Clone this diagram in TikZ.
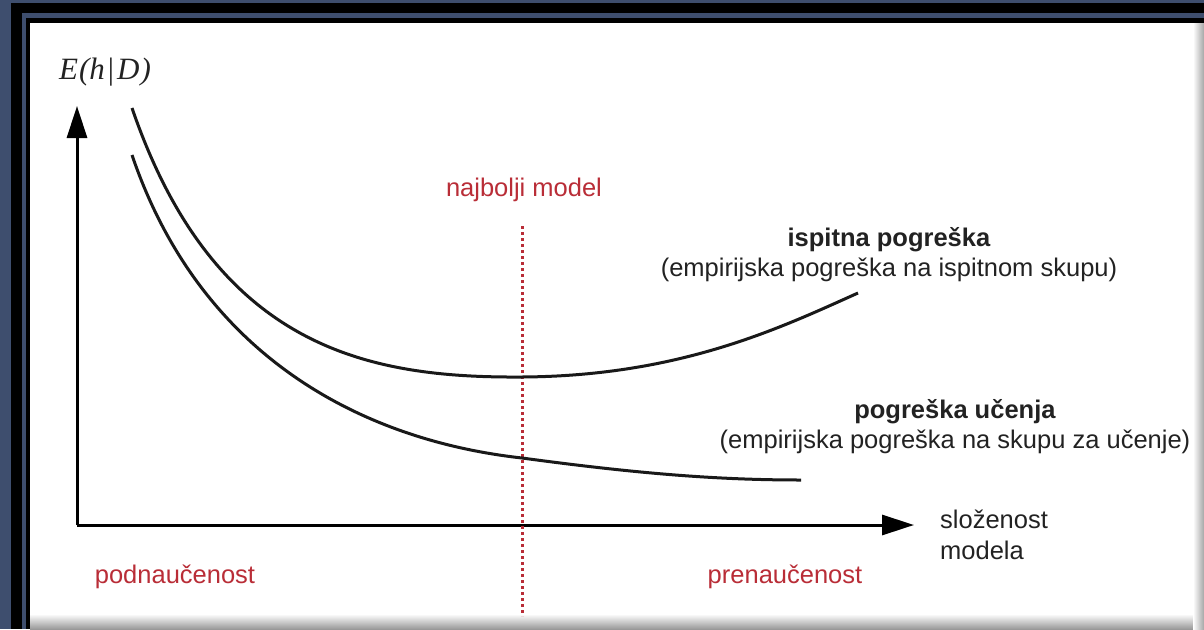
\documentclass[tikz,border=0pt]{standalone}
\usepackage{fontspec}
\setmainfont{Liberation Sans}
\newfontfamily\serifit{Liberation Serif}
\usetikzlibrary{arrows.meta}
\definecolor{navy}{RGB}{62,78,110}
\definecolor{txt}{RGB}{34,34,34}
\definecolor{redtxt}{RGB}{185,45,55}
\begin{document}
\begin{tikzpicture}[x=1pt,y=-1pt,
  axis/.style={line width=3pt,draw=black,-{Triangle[length=32pt,width=20pt]}},
  curve/.style={line width=3pt,draw=black!90},
  lab/.style={text=txt,font=\fontsize{25.5}{30}\selectfont,align=center,inner sep=0pt},
  redlab/.style={text=redtxt,font=\fontsize{25.5}{30}\selectfont,inner sep=0pt},
  bestline/.style={redtxt,line width=3pt,dash pattern=on 2.5pt off 3.5pt}]
\useasboundingbox (0,0) rectangle (1204,629);
% frame
\fill[navy] (0,0) rectangle (1204,629);
\fill[black] (11,3) rectangle (1204,629);
\fill[navy] (22,13) rectangle (1204,629);
\fill[black] (26,18) rectangle (1204,629);
\fill[white] (30,23) rectangle (1204,629);
\shade[top color=white,bottom color=black!40] (30,614) rectangle (1204,629);
\shade[left color=white,right color=black!35] (1193,23) rectangle (1204,629);
% axes
\coordinate (O) at (77,525);
\coordinate (Ytip) at (77,106);
\coordinate (Xtip) at (914,525);
\draw[axis] (O) -- (Ytip);
\draw[axis] (O) -- (Xtip);
\node[inner sep=0pt,text=txt,font=\fontsize{31}{33}\selectfont] (ylab) at (105,72) {\serifit\itshape E\kern1pt(h\/\kern3pt\upshape|\kern3pt\itshape D\kern1pt)};
\node[text=txt,font=\fontsize{25.5}{31}\selectfont,align=left,anchor=west,inner sep=0pt] (xlab) at (940,535) {složenost\\modela};
% best model line
\coordinate (btop) at (522,226);
\coordinate (bbot) at (522,616);
\draw[bestline] (btop) -- (bbot);
\node[redlab] (best) at (524,190) {najbolji model};
% curves
\coordinate (t0) at (132,108);
\coordinate (tm) at (522,377);
\coordinate (t1) at (858,293);
\draw[curve] (t0) .. controls (215,350) and (370,378) .. (tm) .. controls (680,376) and (780,328) .. (t1);
\coordinate (l0) at (132,155);
\coordinate (lm) at (522,458);
\coordinate (l1) at (801,480);
\draw[curve] (l0) .. controls (200,355) and (360,440) .. (lm) .. controls (640,474) and (720,480) .. (l1);
% labels
\node[lab] (test) at (889,255) {\textbf{ispitna pogreška}\\(empirijska pogreška na ispitnom skupu)};
\node[lab] (train) at (955,427) {\textbf{pogreška učenja}\\(empirijska pogreška na skupu za učenje)};
\node[redlab] (under) at (175,577) {podnaučenost};
\node[redlab] (over) at (785,577) {prenaučenost};
\end{tikzpicture}
\end{document}
